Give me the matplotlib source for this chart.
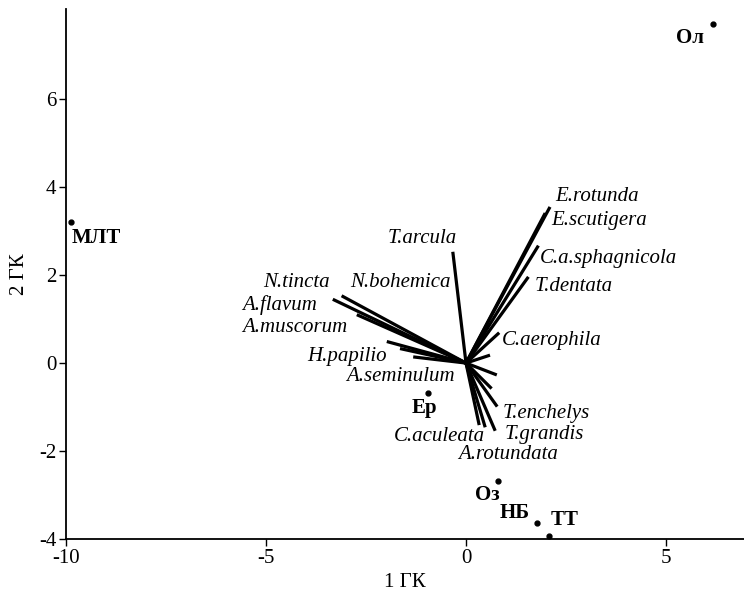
import matplotlib
matplotlib.use("Agg")
import matplotlib.pyplot as plt

plt.rcParams['font.family'] = ['Liberation Serif', 'DejaVu Serif']
plt.rcParams['axes.unicode_minus'] = False

# вектора видов (нагрузки)
sp_x = [-3.33, -3.11, -2.73, -1.98, -1.65, -1.32,
        -0.33, 2.10, 1.98, 1.81, 1.56,
        0.83, 0.60, 0.77, 0.64, 0.78, 0.73, 0.48, 0.33]
sp_y = [1.45, 1.53, 1.10, 0.49, 0.33, 0.14,
        2.53, 3.55, 3.41, 2.67, 1.96,
        0.69, 0.18, -0.27, -0.58, -0.99, -1.54, -1.46, -1.41]

# подписи видов
lab_names = ['T.arcula', 'N.tincta', 'N.bohemica', 'A.flavum', 'A.muscorum', 'H.papilio',
             'A.seminulum', 'E.rotunda', 'E.scutigera', 'C.a.sphagnicola', 'T.dentata',
             'C.aerophila', 'T.enchelys', 'T.grandis', 'C.aculeata', 'A.rotundata']
lab_x = [-1.09, -4.23, -1.63, -4.65, -4.275, -2.975, -1.63, 3.27, 3.33, 3.55, 2.7,
         2.14, 2.0, 1.95, -0.67, 1.04]
lab_y = [2.83, 1.83, 1.83, 1.33, 0.81, 0.16, -0.31, 3.78, 3.23, 2.38, 1.75,
         0.52, -1.15, -1.62, -1.67, -2.07]

# станции
st_names = ['Ол', 'МЛТ', 'Ер', 'Оз', 'НБ', 'ТТ']
st_x = [6.18, -9.88, -0.96, 0.79, 1.78, 2.08]
st_y = [7.72, 3.20, -0.67, -2.69, -3.63, -3.94]
st_lx = [5.6, -9.85, -1.03, 0.54, 1.22, 2.46]
st_ly = [7.38, 2.84, -1.03, -3.0, -3.42, -3.57]
st_ha = ['center', 'left', 'center', 'center', 'center', 'center']

fig = plt.figure(figsize=(7.44, 5.96), dpi=100)
ax = fig.add_axes([66 / 744, 57 / 596, 678 / 744, 530 / 596])

for x, y in zip(sp_x, sp_y):
    ax.plot([0, x], [0, y], color='black', lw=2.3, solid_capstyle='butt')

for name, x, y in zip(lab_names, lab_x, lab_y):
    ax.text(x, y, name, style='italic', fontsize=15, ha='center', va='center')

ax.plot(st_x, st_y, 'o', color='black', ms=3.5)
for name, x, y, ha in zip(st_names, st_lx, st_ly, st_ha):
    ax.text(x, y, name, fontweight='bold', fontsize=15, ha=ha, va='center')

ax.set_xlim(-10, 6.95)
ax.set_ylim(-4, 8.05)
ax.set_xticks([-10, -5, 0, 5])
ax.set_yticks([-4, -2, 0, 2, 4, 6])
ax.spines['top'].set_visible(False)
ax.spines['right'].set_visible(False)
ax.spines['left'].set_linewidth(1.3)
ax.spines['bottom'].set_linewidth(1.3)
ax.tick_params(direction='out', length=5, width=1, labelsize=15, pad=2)
ax.set_xlabel('1 ГК', fontsize=15, labelpad=4)
ax.set_ylabel('2 ГК', fontsize=15, labelpad=7)

fig.savefig('out.png', dpi=100)
